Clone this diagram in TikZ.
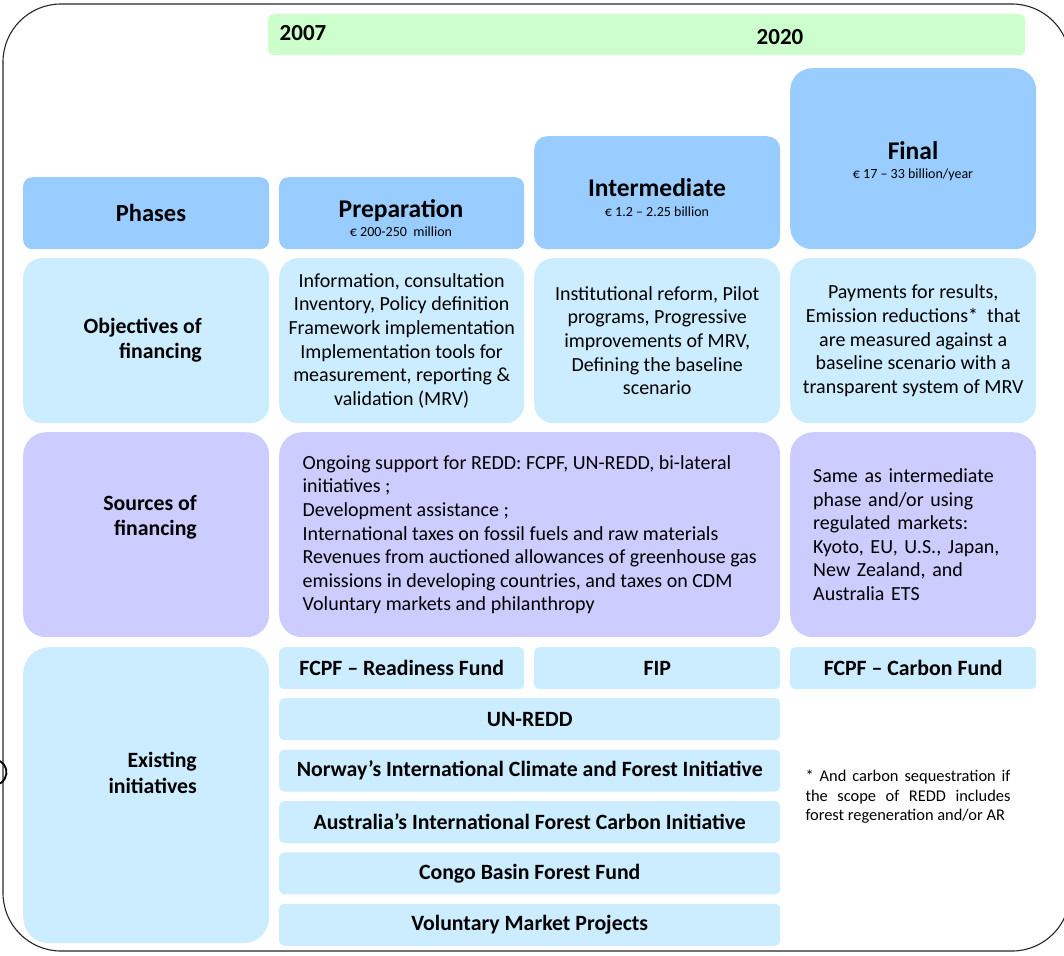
\documentclass[tikz,border=0pt]{standalone}
\usepackage{fontspec}
\setmainfont{Carlito}
\usetikzlibrary{positioning}
\definecolor{phaseblue}{HTML}{99CCFF}
\definecolor{objblue}{HTML}{CCECFF}
\definecolor{srcviolet}{HTML}{CCCCFF}
\definecolor{yeargreen}{HTML}{CCFFCC}
\newcommand{\bodysize}{\fontsize{20}{23.6}\selectfont}
\newcommand{\labelsize}{\fontsize{21.8}{25.3}\selectfont}
\newcommand{\headsize}{\fontsize{25.5}{19.5}\selectfont}
\newcommand{\subsize}{\fontsize{14}{19.5}\selectfont}
\newcommand{\notesize}{\fontsize{16.4}{19.5}\selectfont}
\tikzset{
  cell/.style={anchor=north west, inner sep=0pt, align=center, font=\bodysize},
  phasebox/.style={cell, fill=phaseblue, rounded corners=9pt},
  phasetitle/.style={align=center, inner sep=0pt, font=\fontsize{20}{19.5}\selectfont},
  objbox/.style={cell, fill=objblue, rounded corners=19pt},
  srcbox/.style={cell, fill=srcviolet, rounded corners=23pt},
  initbox/.style={cell, fill=objblue, rounded corners=5pt, minimum height=42pt, font=\labelsize\bfseries},
  rowlabel/.style={anchor=east, align=right, inner sep=0pt, font=\labelsize\bfseries},
  yearlabel/.style={font=\fontsize{23}{26}\selectfont\bfseries}
}

\begin{document}
\begin{tikzpicture}[x=1pt, y=-1pt, node distance=9pt]
\useasboundingbox (0,0) rectangle (1064,955);
% frame, the right side runs off the page
\draw[black!85, line width=1.1pt, rounded corners=58pt] (3,4) rectangle (1070,951);
\draw[line width=1.8pt] (0,761) arc[start angle=60, end angle=-60, radius=13pt];

% time line
\node[cell, fill=yeargreen, rounded corners=6pt, minimum width=757pt, minimum height=41pt] (years) at (268,14) {};
\node[yearlabel] (y2007) at (303,33) {2007};
\node[yearlabel] (y2020) at (780,37) {2020};

% phases
\node[phasebox, minimum width=246pt, minimum height=72pt] (phases) at (23,177) {};
\node[font=\fontsize{24.5}{26}\selectfont\bfseries] (phaselabel) at (151,213) {Phases};
\node[phasebox, minimum width=245pt, minimum height=72pt] (prep) at (279,177) {};
\node[phasetitle] (preplabel) at (401,218) {\headsize\bfseries Preparation\\\subsize € 200-250~~million};
\node[phasebox, rounded corners=13pt, minimum width=246pt, minimum height=113pt] (inter) at (534,136) {};
\node[phasetitle] (interlabel) at (657,197.5) {\headsize\bfseries Intermediate\\\subsize € 1.2 – 2.25 billion};
\node[phasebox, rounded corners=22pt, minimum width=246pt, minimum height=181pt] (final) at (790,68) {};
\node[phasetitle] (finallabel) at (913,161) {\headsize\bfseries Final\\\subsize € 17 – 33 billion/year};

% objectives
\node[objbox, minimum width=246pt, minimum height=165pt] (objleft) at (23,258) {};
\node[rowlabel] (objlabel) at (202,340) {Objectives of\\financing};
\node[objbox, minimum width=245pt, minimum height=165pt] (objprep) at (279,258) {Information, consultation\\Inventory, Policy definition\\Framework implementation\\Implementation tools for\\measurement, reporting \&\\validation (MRV)};
\node[objbox, minimum width=246pt, minimum height=165pt] (objinter) at (534,258) {Institutional reform, Pilot\\programs, Progressive\\improvements of MRV,\\Defining the baseline\\scenario};
\node[objbox, minimum width=246pt, minimum height=165pt] (objfinal) at (790,258) {Payments for results,\\Emission reductions*~ that\\are measured against a\\baseline scenario with a\\transparent system of MRV};

% sources
\node[srcbox, minimum width=246pt, minimum height=205pt] (srcleft) at (23,432) {};
\node[rowlabel] (srclabel) at (197,517) {Sources of\\financing};
\node[srcbox, minimum width=501pt, minimum height=205pt, align=left] (srcmid) at (279,432) {Ongoing support for REDD: FCPF, UN-REDD, bi-lateral\\initiatives ;\\Development assistance ;\\International taxes on fossil fuels and raw materials\\Revenues from auctioned allowances of greenhouse gas\\emissions in developing countries, and taxes on CDM\\Voluntary markets and philanthropy};
\node[srcbox, minimum width=246pt, minimum height=205pt, text width=200pt, align=left] (srcfinal) at (790,432) {Same as intermediate\\phase and/or using\\regulated markets:\\Kyoto, EU, U.S., Japan,\\New Zealand, and\\Australia ETS};

% existing initiatives
\node[objbox, rounded corners=26pt, minimum width=246pt, minimum height=296pt] (initleft) at (23,647) {};
\node[rowlabel] (initlabel) at (197,773) {Existing\\initiatives};
\node[initbox, minimum width=245pt] (readiness) at (279,647) {FCPF – Readiness Fund};
\node[initbox, minimum width=246pt] (fip) at (534,647) {FIP};
\node[initbox, minimum width=246pt] (carbon) at (790,647) {FCPF – Carbon Fund};
\node[initbox, minimum width=501pt] (unredd) at (279,698) {UN-REDD};
\node[initbox, minimum width=501pt, below=of unredd] (norway) {Norway’s International Climate and Forest Initiative};
\node[initbox, minimum width=501pt, below=of norway] (australia) {Australia’s International Forest Carbon Initiative};
\node[initbox, minimum width=501pt, below=of australia] (congo) {Congo Basin Forest Fund};
\node[initbox, minimum width=501pt, below=of congo] (voluntary) {Voluntary Market Projects};

\node[text width=205pt, align=justify, font=\notesize] (note) at (908,797) {* And carbon sequestration if\linebreak the scope of REDD includes\linebreak forest regeneration and/or AR};
\end{tikzpicture}
\end{document}
